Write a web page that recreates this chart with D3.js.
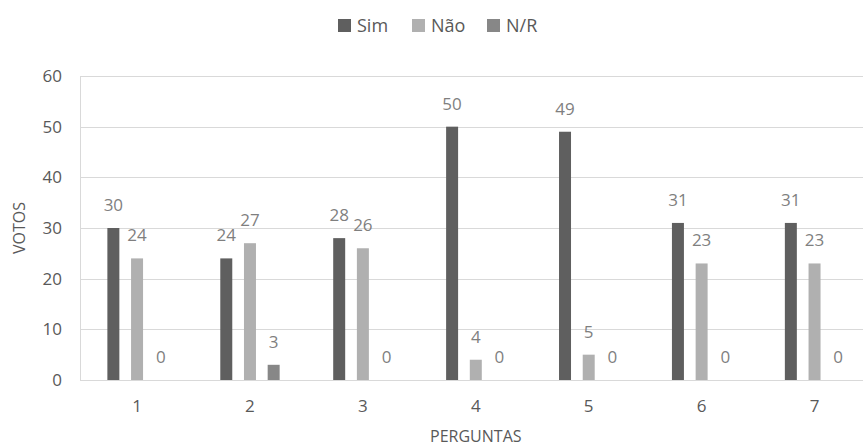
<!DOCTYPE html>
<html>
<head>
<meta charset="utf-8">
<script src="https://cdn.jsdelivr.net/npm/d3@7"></script>
<style>
    body { margin: 0; background: #fff; }
    svg text { font-family: "Open Sans", sans-serif; }
</style>
</head>
<body>
<div id="chart"></div>
<script>
const categories = ["1", "2", "3", "4", "5", "6", "7"];
const seriesNames = ["Sim", "Não", "N/R"];
const sim = [30, 24, 28, 50, 49, 31, 31];
const nao = [24, 27, 26, 4, 5, 23, 23];
const nr = [0, 3, 0, 0, 0, 0, 0];
const yTicks = [0, 10, 20, 30, 40, 50, 60];
const colors = ["#5f5f5f", "#b0b0b0", "#878787"];

const width = 863, height = 448;
const plot = { left: 80.6, right: 871, top: 76, bottom: 380 };
const font = "'Open Sans', sans-serif";

const rows = categories.map((c, i) => ({
    cat: c,
    values: [sim[i], nao[i], nr[i]]
}));

const svg = d3.select("#chart").append("svg")
    .attr("width", width)
    .attr("height", height);

const x = d3.scaleBand().domain(categories).range([plot.left, plot.right]);
const x1 = d3.scaleBand().domain(seriesNames).range([0, x.bandwidth()])
    .paddingInner(0.494).paddingOuter(1.13);
const y = d3.scaleLinear().domain([0, 60]).range([plot.bottom, plot.top]);

// gridlines
svg.append("g")
    .selectAll("line")
    .data(yTicks)
    .join("line")
    .attr("x1", 80).attr("x2", width)
    .attr("y1", d => Math.round(y(d)) + 0.5)
    .attr("y2", d => Math.round(y(d)) + 0.5)
    .attr("stroke", "#d9d9d9")
    .attr("stroke-width", 1);

// y axis line
svg.append("line")
    .attr("x1", 80.5).attr("x2", 80.5)
    .attr("y1", y(60)).attr("y2", y(0))
    .attr("stroke", "#d9d9d9");

// y tick labels
const yAxis = svg.append("g")
    .attr("transform", `translate(62,0)`)
    .call(d3.axisLeft(y).tickValues(yTicks).tickSize(0).tickPadding(0));
yAxis.select(".domain").remove();
yAxis.selectAll("text")
    .attr("font-family", font)
    .attr("font-size", 17)
    .attr("fill", "#595959");

// bars
const groups = svg.append("g")
    .selectAll("g")
    .data(rows)
    .join("g")
    .attr("transform", d => `translate(${x(d.cat)},0)`);

groups.selectAll("rect")
    .data(d => d.values.map((v, i) => ({ key: seriesNames[i], value: v, i })))
    .join("rect")
    .attr("x", d => x1(d.key))
    .attr("width", x1.bandwidth())
    .attr("y", d => y(d.value))
    .attr("height", d => y(0) - y(d.value))
    .attr("fill", d => colors[d.i]);

// data labels
groups.selectAll("text")
    .data(d => d.values.map((v, i) => ({ key: seriesNames[i], value: v })))
    .join("text")
    .attr("x", d => x1(d.key) + x1.bandwidth() / 2)
    .attr("y", d => y(d.value) - 17)
    .attr("text-anchor", "middle")
    .attr("font-size", 17)
    .attr("fill", "#7f7f7f")
    .text(d => d.value);

// x axis labels
const xAxis = svg.append("g")
    .attr("transform", `translate(0,${plot.bottom})`)
    .call(d3.axisBottom(x).tickSize(0).tickPadding(0));
xAxis.select(".domain").remove();
xAxis.selectAll("text")
    .attr("dy", null)
    .attr("y", 32)
    .attr("font-family", font)
    .attr("font-size", 17)
    .attr("fill", "#595959");

// axis titles
svg.append("text")
    .attr("x", (plot.left + plot.right) / 2)
    .attr("y", 442)
    .attr("text-anchor", "middle")
    .attr("font-size", 16)
    .attr("fill", "#595959")
    .text("PERGUNTAS");

svg.append("text")
    .attr("transform", "translate(25,228) rotate(-90)")
    .attr("text-anchor", "middle")
    .attr("font-size", 16)
    .attr("fill", "#595959")
    .text("VOTOS");

// legend
const legendX = [338, 412, 487];
const legend = svg.append("g")
    .selectAll("g")
    .data(seriesNames)
    .join("g")
    .attr("transform", (d, i) => `translate(${legendX[i]},19)`);
legend.append("rect")
    .attr("width", 13).attr("height", 13)
    .attr("fill", (d, i) => colors[i]);
legend.append("text")
    .attr("x", 19).attr("y", 13)
    .attr("font-size", 18)
    .attr("fill", "#595959")
    .text(d => d);
</script>
</body>
</html>
